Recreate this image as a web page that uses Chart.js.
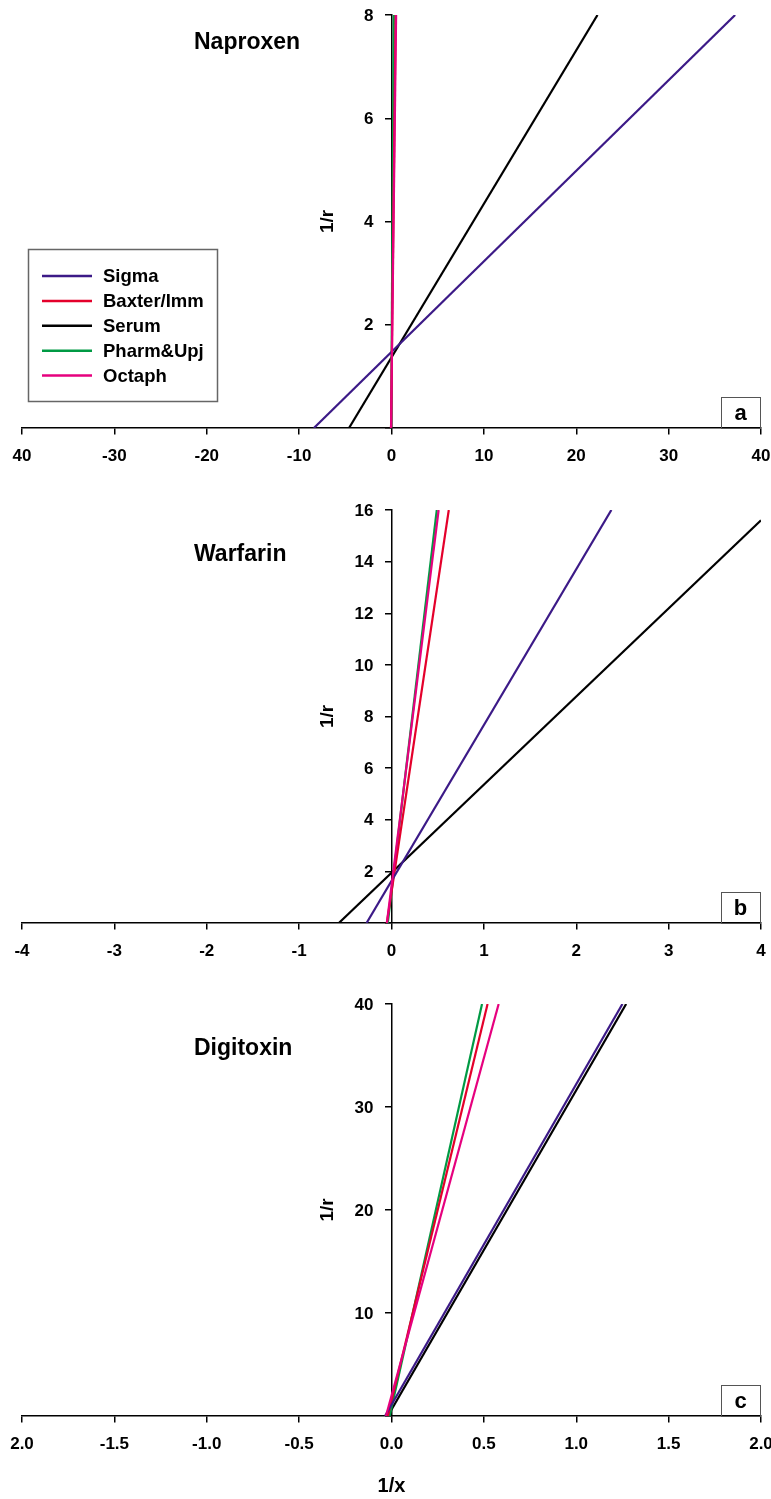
<!DOCTYPE html>
<html><head><meta charset="utf-8">
<script src="https://cdn.jsdelivr.net/npm/chart.js@4.4.1/dist/chart.umd.min.js"></script>
<style>
html,body{margin:0;padding:0;background:#fff;width:771px;height:1499px;overflow:hidden}
.panel{position:absolute;left:0;width:771px}
canvas{display:block}
</style></head><body>
<div class="panel" style="top:0;height:494px"><canvas id="ca" width="771" height="494"></canvas></div>
<div class="panel" style="top:495px;height:494px"><canvas id="cb" width="771" height="494"></canvas></div>
<div class="panel" style="top:989px;height:510px"><canvas id="cc" width="771" height="510"></canvas></div>
<script>
const seriesNames = ['Sigma', 'Baxter/Imm', 'Serum', 'Pharm&Upj', 'Octaph'];
const seriesColors = ['#3c1a87', '#e4002b', '#000000', '#009a44', '#e6007e'];
const drawOrder = [2, 3, 5, 4, 1];

// each line: from (x0, 1/r = 0) to (x1, y1)
const naproxenX0 = [-8.4, -0.05, -4.6, -0.04, -0.05];
const naproxenX1 = [37.2, 0.45, 22.3, 0.25, 0.5];
const naproxenY1 = [8, 8, 8, 8, 8];
const naproxenXTicks = ['40', '-30', '-20', '-10', '0', '10', '20', '30', '40'];
const naproxenYTicks = ['', '2', '4', '6', '8'];

const warfarinX0 = [-0.27, -0.05, -0.57, -0.04, -0.05];
const warfarinX1 = [2.38, 0.62, 4.0, 0.49, 0.51];
const warfarinY1 = [16, 16, 15.6, 16, 16];
const warfarinXTicks = ['-4', '-3', '-2', '-1', '0', '1', '2', '3', '4'];
const warfarinYTicks = ['', '2', '4', '6', '8', '10', '12', '14', '16'];

const digitoxinX0 = [-0.035, -0.02, -0.02, -0.01, -0.03];
const digitoxinX1 = [1.25, 0.52, 1.27, 0.49, 0.58];
const digitoxinY1 = [40, 40, 40, 40, 40];
const digitoxinXTicks = ['2.0', '-1.5', '-1.0', '-0.5', '0.0', '0.5', '1.0', '1.5', '2.0'];
const digitoxinYTicks = ['', '10', '20', '30', '40'];

const FONT = "'Liberation Sans', Arial, Helvetica, sans-serif";

const decoPlugin = {
  id: 'deco',
  afterDraw(chart, args, o) {
    const ctx = chart.ctx;
    const ca = chart.chartArea;
    const xs = chart.scales.x;
    const ys = chart.scales.y;
    const x0px = xs.getPixelForValue(0);
    const y0px = ys.getPixelForValue(0);
    ctx.save();
    ctx.fillStyle = '#000';
    // tick labels
    ctx.font = 'bold 17px ' + FONT;
    ctx.textAlign = 'center';
    ctx.textBaseline = 'middle';
    xs.ticks.forEach((t, i) => {
      ctx.fillText(o.xLabels[i] || '', xs.getPixelForValue(t.value), y0px + 28);
    });
    ctx.textAlign = 'right';
    ys.ticks.forEach((t, i) => {
      ctx.fillText(o.yLabels[i] || '', x0px - 18, ys.getPixelForValue(t.value) + 1);
    });
    // title
    ctx.font = 'bold 23px ' + FONT;
    ctx.textAlign = 'left';
    ctx.textBaseline = 'alphabetic';
    ctx.fillText(o.title, 194, o.titleY);
    // y title
    ctx.save();
    ctx.translate(328, (ca.top + ca.bottom) / 2);
    ctx.rotate(-Math.PI / 2);
    ctx.font = 'bold 19px ' + FONT;
    ctx.textAlign = 'center';
    ctx.textBaseline = 'middle';
    ctx.fillText('1/r', 0, 0);
    ctx.restore();
    // letter box
    const bw = 39, bh = 31;
    const bx = ca.right - 1 - bw, by = ca.bottom - bh;
    ctx.strokeStyle = '#555';
    ctx.lineWidth = 1;
    ctx.strokeRect(bx + 0.5, by + 0.5, bw, bh);
    ctx.font = 'bold 22px ' + FONT;
    ctx.textAlign = 'center';
    ctx.textBaseline = 'middle';
    ctx.fillText(o.letter, bx + bw / 2, by + bh / 2 + 1);
    // legend
    if (o.legend) {
      ctx.strokeStyle = '#666';
      ctx.lineWidth = 1.5;
      ctx.strokeRect(28.5, 249.5, 189, 152);
      ctx.font = 'bold 18.5px ' + FONT;
      ctx.textAlign = 'left';
      ctx.textBaseline = 'middle';
      chart.data.datasets.forEach((ds, i) => {
        const y = 276 + i * 24.9;
        ctx.strokeStyle = ds.borderColor;
        ctx.lineWidth = 2.5;
        ctx.beginPath();
        ctx.moveTo(42, y);
        ctx.lineTo(92, y);
        ctx.stroke();
        ctx.fillStyle = '#000';
        ctx.fillText(ds.label, 103, y + 1);
      });
    }
    if (o.xTitle) {
      ctx.font = 'bold 20px ' + FONT;
      ctx.textAlign = 'center';
      ctx.textBaseline = 'middle';
      ctx.fillText('1/x', x0px, 497);
    }
    ctx.restore();
  }
};

function makeChart(id, x0, x1, y1, xMin, xMax, xStep, yMax, yStep, deco) {
  const datasets = seriesNames.map((name, i) => ({
    label: name,
    data: [{x: x0[i], y: 0}, {x: x1[i], y: y1[i]}],
    borderColor: seriesColors[i],
    backgroundColor: seriesColors[i],
    borderWidth: 2.2,
    pointRadius: 0,
    showLine: true,
    order: drawOrder[i]
  }));
  const axisCommon = {
    grid: {display: true, drawOnChartArea: false, drawTicks: true, tickLength: 6, color: '#000', lineWidth: 1.5},
    border: {display: true, color: '#000', width: 1.5}
  };
  return new Chart(document.getElementById(id), {
    type: 'scatter',
    data: {datasets},
    options: {
      responsive: false,
      animation: false,
      layout: {autoPadding: false, padding: {left: 22, right: 10, top: 15, bottom: id === 'cc' ? 83 : 66}},
      plugins: {legend: {display: false}, tooltip: {enabled: false}, deco},
      scales: {
        x: Object.assign({}, axisCommon, {
          type: 'linear', position: {y: 0}, min: xMin, max: xMax,
          ticks: {display: false, stepSize: xStep, autoSkip: false, maxRotation: 0}
        }),
        y: Object.assign({}, axisCommon, {
          type: 'linear', position: {x: 0}, min: 0, max: yMax,
          ticks: {display: false, stepSize: yStep, autoSkip: false}
        })
      }
    },
    plugins: [decoPlugin]
  });
}

makeChart('ca', naproxenX0, naproxenX1, naproxenY1, -40, 40, 10, 8, 2,
  {title: 'Naproxen', titleY: 49, letter: 'a', legend: true, xTitle: false, xLabels: naproxenXTicks, yLabels: naproxenYTicks});
makeChart('cb', warfarinX0, warfarinX1, warfarinY1, -4, 4, 1, 16, 2,
  {title: 'Warfarin', titleY: 66, letter: 'b', legend: false, xTitle: false, xLabels: warfarinXTicks, yLabels: warfarinYTicks});
makeChart('cc', digitoxinX0, digitoxinX1, digitoxinY1, -2, 2, 0.5, 40, 10,
  {title: 'Digitoxin', titleY: 66, letter: 'c', legend: false, xTitle: true, xLabels: digitoxinXTicks, yLabels: digitoxinYTicks});
</script>
</body></html>
